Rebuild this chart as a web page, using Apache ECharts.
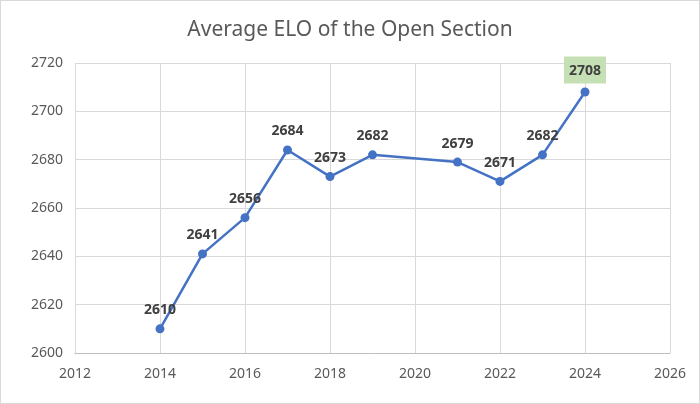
<!DOCTYPE html>
<html>
<head>
<meta charset="utf-8">
<script src="https://cdn.jsdelivr.net/npm/echarts@6/dist/echarts.min.js"></script>
<style>
html,body{margin:0;padding:0;background:#fff;}
#wrap{position:absolute;left:0;top:0;width:698px;height:402px;border:1px solid #d9d9d9;}
#chart{width:698px;height:402px;}
</style>
</head>
<body>
<div id="wrap"><div id="chart"></div></div>
<script>
var years = [2014, 2015, 2016, 2017, 2018, 2019, 2021, 2022, 2023, 2024];
var elo = [2610, 2641, 2656, 2684, 2673, 2682, 2679, 2671, 2682, 2708];
var titleText = 'Average ELO of the Open Section';
var highlightYear = 2024;

var chart = echarts.init(document.getElementById('chart'), null, {renderer: 'canvas'});
var data = years.map(function (y, i) {
  var d = {value: [y, elo[i]]};
  if (y === highlightYear) {
    d.label = {backgroundColor: '#c5e0b4', padding: [6, 5, 4, 5], lineHeight: 17, distance: 4};
  }
  return d;
});
function plain(v) { return String(v); }
chart.setOption({
  animation: false,
  title: {
    text: titleText,
    left: 'center',
    top: 14,
    textStyle: {fontFamily: 'Noto Sans', fontWeight: 'normal', fontSize: 21, color: '#595959'}
  },
  grid: {left: 74, right: 29, top: 62, bottom: 50},
  xAxis: {
    type: 'value',
    min: 2012, max: 2026, interval: 2,
    axisLine: {show: true, lineStyle: {color: '#bfbfbf', width: 1}},
    axisTick: {show: false},
    splitLine: {show: true, lineStyle: {color: '#d9d9d9', width: 1}},
    axisLabel: {color: '#595959', fontSize: 14, fontFamily: 'Noto Sans', margin: 14, formatter: plain}
  },
  yAxis: {
    type: 'value',
    min: 2600, max: 2720, interval: 20,
    axisLine: {show: false},
    axisTick: {show: false},
    splitLine: {show: true, lineStyle: {color: '#d9d9d9', width: 1}},
    axisLabel: {color: '#595959', fontSize: 14, fontFamily: 'Noto Sans', margin: 12, formatter: plain}
  },
  series: [{
    type: 'line',
    data: data,
    symbol: 'circle',
    symbolSize: 9,
    lineStyle: {color: '#4472c4', width: 2.5},
    itemStyle: {color: '#4472c4'},
    label: {
      show: true, position: 'top', distance: 7,
      fontFamily: 'Noto Sans', fontWeight: 'bold', fontSize: 14, color: '#404040',
      formatter: function (p) { return p.value[1]; }
    }
  }]
});
</script>
</body>
</html>
